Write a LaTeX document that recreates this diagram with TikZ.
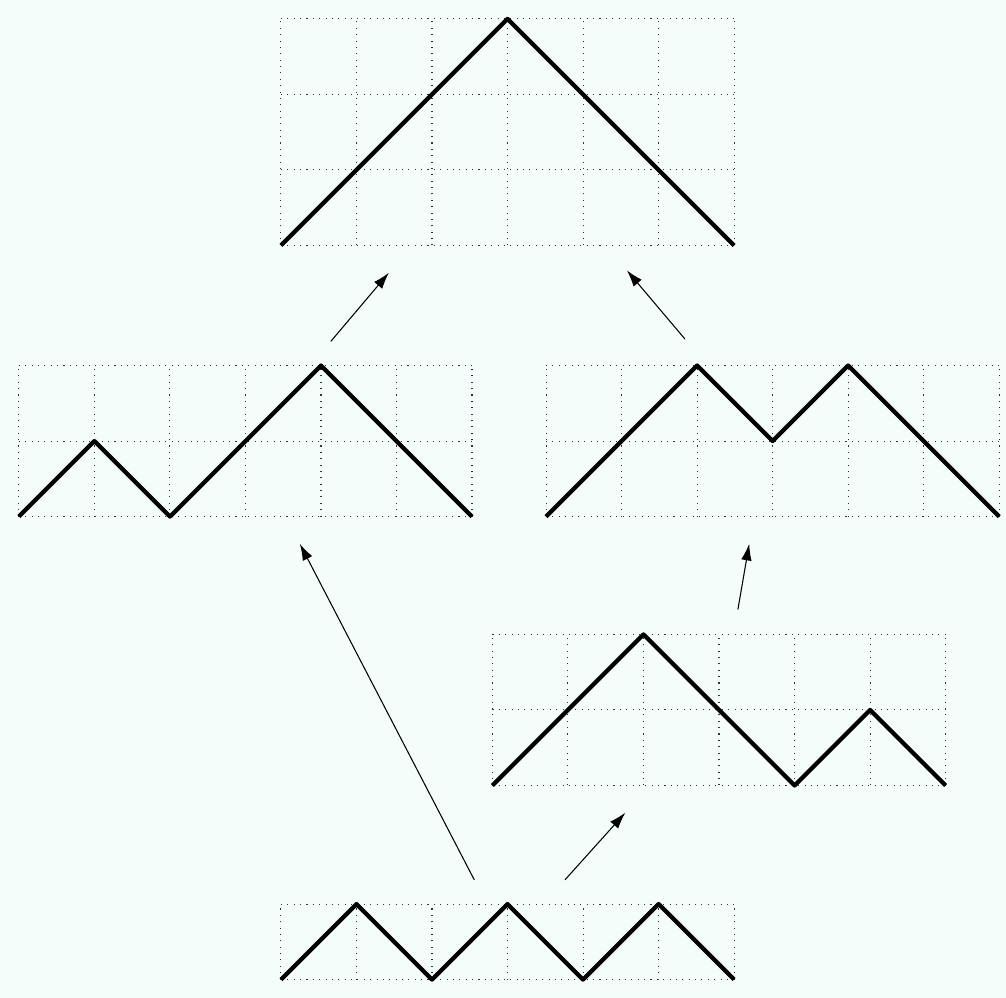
\documentclass[tikz,border=0pt]{standalone}
\usepackage{tikz}
\usetikzlibrary{arrows.meta}
\definecolor{MintBg}{HTML}{F4FDF9}

\begin{document}
\begin{tikzpicture}[>={Latex[length=2.2mm,width=1.4mm]},
    gridline/.style={dotted, line width=0.4pt, black!80},
    dyckpath/.style={line width=1.6pt, line join=round, black},
    link/.style={->, line width=0.4pt}]
    \fill[MintBg] (0,0) rectangle (13.32,13.21);
    \useasboundingbox (0,0) rectangle (13.32,13.21);

    % top: one big peak
    \begin{scope}[shift={(3.72,9.96)}]
        \draw[gridline] (0,0) grid (6,3);
        \draw[dyckpath] (0,0) -- (3,3) -- (6,0);
    \end{scope}

    % middle left
    \begin{scope}[shift={(0.25,6.37)}]
        \draw[gridline] (0,0) grid (6,2);
        \draw[dyckpath] (0,0) -- (1,1) -- (2,0) -- (4,2) -- (6,0);
    \end{scope}

    % middle right
    \begin{scope}[shift={(7.23,6.37)}]
        \draw[gridline] (0,0) grid (6,2);
        \draw[dyckpath] (0,0) -- (2,2) -- (3,1) -- (4,2) -- (6,0);
    \end{scope}

    % lower right
    \begin{scope}[shift={(6.52,2.81)}]
        \draw[gridline] (0,0) grid (6,2);
        \draw[dyckpath] (0,0) -- (2,2) -- (4,0) -- (5,1) -- (6,0);
    \end{scope}

    % bottom: zigzag
    \begin{scope}[shift={(3.72,0.24)}]
        \draw[gridline] (0,0) grid (6,1);
        \draw[dyckpath] (0,0) -- (1,1) -- (2,0) -- (3,1) -- (4,0) -- (5,1) -- (6,0);
    \end{scope}

    % arrow ends
    \coordinate (zigA) at (6.28,1.56);
    \coordinate (zigB) at (7.48,1.56);
    \coordinate (midLin) at (3.97,6.01);
    \coordinate (lowRin) at (8.28,2.45);
    \coordinate (lowRout) at (9.77,5.14);
    \coordinate (midRin) at (9.92,6.01);
    \coordinate (midLout) at (4.38,8.69);
    \coordinate (midRout) at (9.07,8.72);
    \coordinate (topinL) at (5.15,9.60);
    \coordinate (topinR) at (8.30,9.63);

    \draw[link] (zigA) -- (midLin);
    \draw[link] (zigB) -- (lowRin);
    \draw[link] (lowRout) -- (midRin);
    \draw[link] (midLout) -- (topinL);
    \draw[link] (midRout) -- (topinR);
\end{tikzpicture}
\end{document}
